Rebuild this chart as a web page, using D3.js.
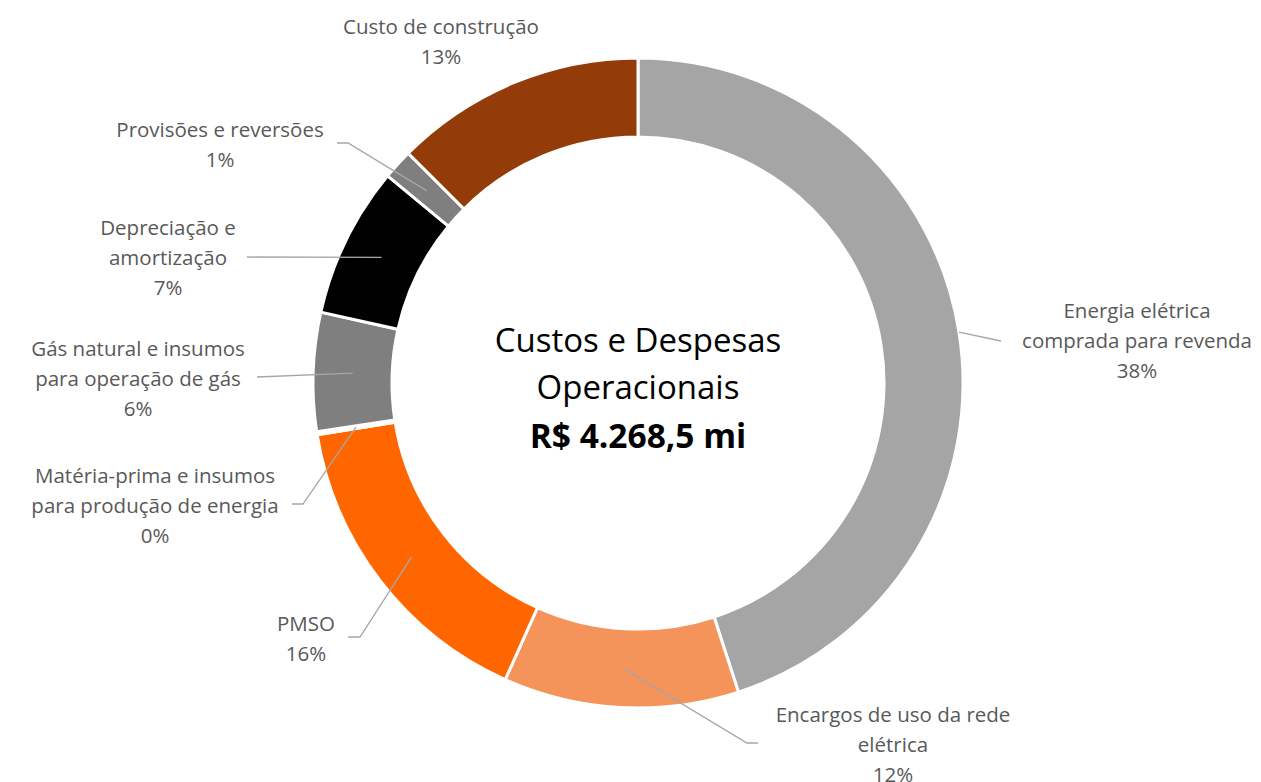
<!DOCTYPE html>
<html>
<head>
<meta charset="utf-8">
<script src="https://cdn.jsdelivr.net/npm/d3@7"></script>
<style>
  body { margin: 0; background: #fff; }
  text { font-family: "Open Sans", Lato, sans-serif; }
</style>
</head>
<body>
<div id="chart"></div>
<script>
// categorias (sentido horario a partir do topo)
var categorias = [
  ["Energia elétrica", "comprada para revenda"],
  ["Encargos de uso da rede", "elétrica"],
  ["PMSO"],
  ["Matéria-prima e insumos", "para produção de energia"],
  ["Gás natural e insumos", "para operação de gás"],
  ["Depreciação e", "amortização"],
  ["Provisões e reversões"],
  ["Custo de construção"]
];
// participacao de cada fatia (%)
var participacao = [45.0, 11.7, 15.75, 0.15, 5.9, 7.5, 1.5, 12.5];
// rotulos de percentual como aparecem no grafico
var rotulosPct = ["38%", "12%", "16%", "0%", "6%", "7%", "1%", "13%"];
var cores = ["#A5A5A5", "#F4935A", "#FF6600", "#C55A11", "#7F7F7F", "#000000", "#7F7F7F", "#943C09"];
var titulo = ["Custos e Despesas", "Operacionais"];
var total = "R$ 4.268,5 mi";

var width = 1261, height = 782;
var cx = 638, cy = 383, rOut = 325, rIn = 246;

// posicao dos rotulos (centro da primeira linha) e cotovelos das linhas guia
var posRotulo = [[1137, 311], [893, 715], [306, 624], [155, 476], [138, 349], [168, 228], [220, 130], [441, 27]];
var guia = [
  [[1001, 341]],
  [[747, 743], [758, 743]],
  [[360, 637], [348, 637]],
  [[303, 504], [292, 504]],
  [[257, 377]],
  [[247, 257]],
  [[348, 143], [337, 143]],
  null
];
// raio de onde parte a linha guia
var raioGuia = [rOut, null, null, null, null, null, null, null];

var svg = d3.select("#chart").append("svg")
  .attr("width", width)
  .attr("height", height);

var pie = d3.pie().sort(null).value(function(d){ return d; });
var arcs = pie(participacao);

var arc = d3.arc().innerRadius(rIn).outerRadius(rOut);
var g = svg.append("g").attr("transform", "translate(" + cx + "," + cy + ")");

g.selectAll("path.fatia")
  .data(arcs)
  .enter().append("path")
  .attr("class", "fatia")
  .attr("d", arc)
  .attr("fill", function(d, i){ return cores[i]; })
  .attr("stroke", "#fff")
  .attr("stroke-width", 3)
  .attr("stroke-linejoin", "miter");

// linhas guia
var linha = d3.line();
arcs.forEach(function(a, i){
  if (!guia[i]) return;
  var p;
  if (raioGuia[i]) {
    var ang = (a.startAngle + a.endAngle) / 2;
    p = [cx + raioGuia[i] * Math.sin(ang), cy - raioGuia[i] * Math.cos(ang)];
  } else {
    var c = arc.centroid(a);
    p = [cx + c[0], cy + c[1]];
  }
  svg.append("path")
    .attr("d", linha([p].concat(guia[i])))
    .attr("fill", "none")
    .attr("stroke", "#A6A6A6")
    .attr("stroke-width", 1.3);
});

// rotulos
categorias.forEach(function(cat, i){
  var linhas = cat.concat([rotulosPct[i]]);
  var t = svg.append("text")
    .attr("text-anchor", "middle")
    .attr("fill", "#595959")
    .style("font-size", "20.5px");
  linhas.forEach(function(l, k){
    t.append("tspan")
      .attr("x", posRotulo[i][0])
      .attr("y", posRotulo[i][1] + k * 30)
      .attr("dy", "0.35em")
      .text(l);
  });
});

// titulo central
var tc = svg.append("text")
  .attr("text-anchor", "middle")
  .attr("fill", "#000");
titulo.forEach(function(l, k){
  tc.append("tspan")
    .attr("x", cx)
    .attr("y", 340 + k * 47)
    .attr("dy", "0.35em")
    .style("font-size", "33px")
    .text(l);
});
tc.append("tspan")
  .attr("x", cx)
  .attr("y", 436)
  .attr("dy", "0.35em")
  .style("font-size", "33.5px")
  .style("font-weight", "bold")
  .text(total);
</script>
</body>
</html>
